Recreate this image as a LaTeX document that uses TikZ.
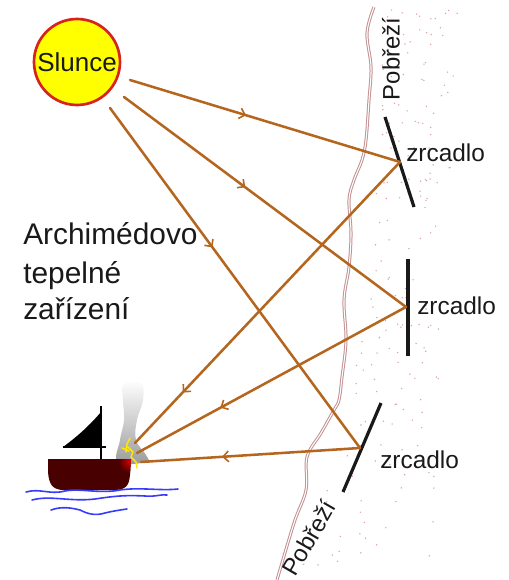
\documentclass[tikz,border=0pt]{standalone}
\usepackage{fontspec}
\setmainfont{Liberation Sans}
\usetikzlibrary{arrows.meta,decorations.markings}

\definecolor{raybrown}{RGB}{181,102,30}
\definecolor{sunfill}{RGB}{255,255,0}
\definecolor{sunrim}{RGB}{215,35,30}
\definecolor{coast}{RGB}{195,145,145}
\definecolor{sand}{RGB}{220,165,165}
\definecolor{hull}{RGB}{72,0,0}
\definecolor{wave}{RGB}{55,60,250}
\definecolor{ink}{RGB}{25,25,25}

\tikzset{
  beam/.style={raybrown, line width=1.9pt, line cap=round,
    postaction={decorate},
    decoration={markings, mark=at position #1 with
      {\arrow{Straight Barb[length=4pt,width=8pt,line width=1.2pt]}}}},
  mirror/.style={ink, line width=2.4pt},
  label/.style={ink, inner sep=0pt, font=\fontsize{18.3}{22}\selectfont},
  shore/.style={ink, inner sep=0pt, font=\fontsize{17.9}{21}\selectfont},
  title/.style={ink, inner sep=0pt, anchor=base west, font=\fontsize{22.4}{27.75}\selectfont},
  water/.style={wave, line width=1.2pt, line cap=round, line join=round},
}

\begin{document}
\begin{tikzpicture}[x=0.75pt,y=-0.75pt]
\useasboundingbox (0,0) rectangle (508,580);

% sand on the shore side
\pgfmathsetseed{11}
\foreach \i in {1,...,190}{
  \pgfmathsetmacro\yy{10+560*rnd}
  \pgfmathsetmacro\cx{\yy<400 ? 374-0.0875*\yy : 339-0.34*(\yy-400)}
  \pgfmathsetmacro\rr{458-0.04*\yy}
  \pgfmathsetmacro\xx{\cx+14+(\rr-\cx-14)*rnd}
  \fill[sand] (\xx,\yy) circle[radius=0.8];
}

% coastline
\draw[coast, line width=0.75pt, double=white, double distance=0.8pt]
  plot[smooth, tension=0.6] coordinates {(374,7) (367,33) (371,67) (369,100)
    (366,140) (362,160) (354,180) (349,200) (351,233) (349,267) (344,300)
    (346,340) (342,377) (339,400) (334,410) (321,433) (307,457) (306,490)
    (294,523) (277,580)};

% sun
\node[circle, draw=sunrim, fill=sunfill, line width=2pt, minimum size=86pt*0.75,
      inner sep=0pt, font=\fontsize{19.5}{22}\selectfont, text=ink] (sun) at (77,62) {Slunce};

% points where the beams leave the sun, hit the mirrors and reach the ship
\coordinate (s1) at (130,80);
\coordinate (s2) at (124,97);
\coordinate (s3) at (110,108);
\coordinate (m1) at (400,162);
\coordinate (m2) at (406,307);
\coordinate (m3) at (360,448);
\coordinate (b1) at (135,443);
\coordinate (b2) at (137,453);
\coordinate (b3) at (141,462);

% mirrors
\coordinate (m1a) at (385,117); \coordinate (m1b) at (414,207);
\coordinate (m2a) at (408,259); \coordinate (m2b) at (408,356);
\coordinate (m3a) at (381,403); \coordinate (m3b) at (343,492);
\draw[mirror] (m1a) -- (m1b);
\draw[mirror] (m2a) -- (m2b);
\draw[mirror] (m3a) -- (m3b);

% smoke
\shade[top color=white, bottom color=black!40]
  plot[smooth cycle, tension=0.7] coordinates {(124,384) (141,383) (143,400)
    (137,420) (136,440) (146,455) (146,462) (118,462) (120,440) (124,420) (123,400)};

% ship hull with a glowing stern
\path[fill=hull] (48,459) -- (131,459) -- (130,475) .. controls (129,486) and (126,489) .. (116,490)
  -- (62,490) .. controls (52,489) and (49,484) .. (48,472) -- cycle;
\begin{scope}
  \clip (48,459) -- (131,459) -- (130,475) .. controls (129,486) and (126,489) .. (116,490)
    -- (62,490) .. controls (52,489) and (49,484) .. (48,472) -- cycle;
  \shade[inner color=red!85!black, outer color=hull] (130,461) circle[radius=12];
\end{scope}
% mast and sail
\draw[black, line width=1.3pt] (101,406) -- (101,459);
\draw[black, line width=1.3pt] (63,447) -- (106,447);
\fill[black] (63,447) .. controls (78,436) and (90,425) .. (101,412) -- (101,447) -- cycle;

% fire
\draw[yellow!90!orange, line width=1.1pt, line cap=round, line join=round]
  (126,452) -- (127,444) -- (130,438) (128,447) -- (133,452) -- (131,457) -- (136,462) -- (137,468)
  (122,448) -- (129,451);

% water
\draw[water] (26,492) .. controls (40,488) and (50,495) .. (65,491)
  .. controls (80,488) and (100,494) .. (120,490) .. controls (140,487) and (160,491) .. (178,489);
\draw[water] (32,500) .. controls (50,495) and (70,502) .. (95,499)
  .. controls (115,496) and (125,495) .. (145,496) .. controls (155,497) and (162,494) .. (167,495);
\draw[water] (51,510) .. controls (62,506) and (72,508) .. (80,510)
  .. controls (88,514) and (95,516) .. (105,513) .. controls (113,511) and (120,510) .. (127,509);

% beams from the sun to the mirrors
\draw[beam=0.43] (s1) -- (m1);
\draw[beam=0.43] (s2) -- (m2);
\draw[beam=0.41] (s3) -- (m3);
% reflected beams towards the ship
\draw[beam=0.82] (m1) -- (b1);
\draw[beam=0.69] (m2) -- (b2);
\draw[beam=0.63] (m3) -- (b3);

% labels
\node[label, anchor=west] (z1) at (406,153) {zrcadlo};
\node[label, anchor=west] (z2) at (417,306) {zrcadlo};
\node[label, anchor=west] (z3) at (380,460) {zrcadlo};
\node[shore, rotate=90] (p1) at (391,59) {Pobřeží};
\node[shore, rotate=60] (p2) at (309,538) {Pobřeží};
\node[title] (t1) at (23,245) {Archimédovo};
\node[title] (t2) at (23,283) {tepelné};
\node[title] (t3) at (23,319) {zařízení};
\end{tikzpicture}
\end{document}
